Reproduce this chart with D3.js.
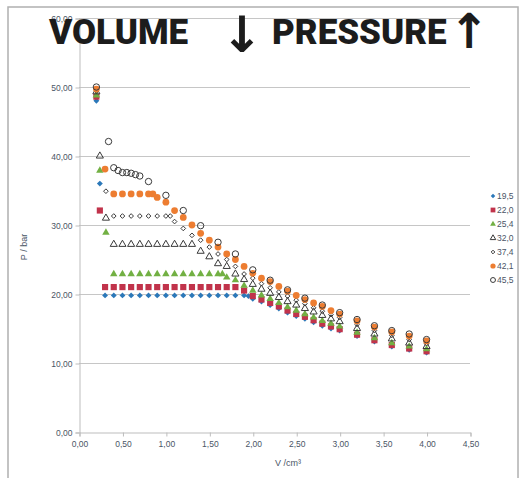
<!DOCTYPE html>
<html>
<head>
<meta charset="utf-8">
<script src="https://cdn.jsdelivr.net/npm/d3@7"></script>
<style>
  body { margin: 0; background: #fff; }
  svg { display: block; }
</style>
</head>
<body>
<div id="chart"></div>
<script>
// isotherms, [V /cm3, P /bar]
var t195 = [[0.2,48.0],[0.24,36.0],[0.3,19.8],[0.4,19.8],[0.5,19.8],[0.6,19.8],[0.7,19.8],[0.8,19.8],[0.9,19.8],[1.0,19.8],[1.1,19.8],[1.2,19.8],[1.3,19.8],[1.4,19.8],[1.5,19.8],[1.6,19.8],[1.7,19.8],[1.8,19.8],[1.9,19.8],[1.95,19.7],[2.0,19.3],[2.1,18.9],[2.2,18.4],[2.3,17.9],[2.4,17.3],[2.5,16.8],[2.6,16.4],[2.7,15.9],[2.8,15.4],[2.9,15.0],[3.0,14.7],[3.2,13.9],[3.4,13.1],[3.6,12.4],[3.8,11.9],[4.0,11.5]];
var t220 = [[0.2,48.6],[0.24,32.1],[0.3,21.0],[0.4,21.0],[0.5,21.0],[0.6,21.0],[0.7,21.0],[0.8,21.0],[0.9,21.0],[1.0,21.0],[1.1,21.0],[1.2,21.0],[1.3,21.0],[1.4,21.0],[1.5,21.0],[1.6,21.0],[1.7,21.0],[1.8,21.0],[1.9,20.5],[2.0,19.7],[2.1,19.2],[2.2,18.7],[2.3,18.2],[2.4,17.6],[2.5,17.1],[2.6,16.7],[2.7,16.2],[2.8,15.7],[2.9,15.3],[3.0,14.9],[3.2,14.1],[3.4,13.3],[3.6,12.6],[3.8,12.1],[4.0,11.7]];
var t254 = [[0.2,48.8],[0.24,37.9],[0.31,28.9],[0.4,22.9],[0.5,22.9],[0.6,22.9],[0.7,22.9],[0.8,22.9],[0.9,22.9],[1.0,22.9],[1.1,22.9],[1.2,22.9],[1.3,22.9],[1.4,22.9],[1.5,22.9],[1.6,22.9],[1.65,22.9],[1.7,22.4],[1.8,22.0],[1.9,21.2],[2.0,20.5],[2.1,19.8],[2.2,19.3],[2.3,18.7],[2.4,18.1],[2.5,17.6],[2.6,17.1],[2.7,16.6],[2.8,16.1],[2.9,15.7],[3.0,15.3],[3.2,14.4],[3.4,13.6],[3.6,12.9],[3.8,12.4],[4.0,12.0]];
var t320 = [[0.2,49.3],[0.24,40.0],[0.31,31.0],[0.4,27.2],[0.5,27.2],[0.6,27.2],[0.7,27.2],[0.8,27.2],[0.9,27.2],[1.0,27.2],[1.1,27.2],[1.2,27.2],[1.3,27.2],[1.4,26.2],[1.5,25.4],[1.6,24.4],[1.7,24.0],[1.8,22.9],[1.9,22.1],[2.0,21.4],[2.1,20.7],[2.2,20.1],[2.3,19.5],[2.4,18.9],[2.5,18.4],[2.6,17.9],[2.7,17.4],[2.8,16.9],[2.9,16.4],[3.0,16.0],[3.2,15.0],[3.4,14.2],[3.6,13.5],[3.8,12.9],[4.0,12.4]];
var t374 = [[0.2,49.4],[0.31,34.9],[0.4,31.3],[0.5,31.3],[0.6,31.3],[0.7,31.3],[0.8,31.3],[0.9,31.3],[1.0,31.3],[1.05,31.3],[1.1,30.5],[1.2,29.5],[1.3,28.5],[1.4,27.8],[1.5,26.8],[1.6,25.8],[1.7,25.0],[1.8,24.0],[1.9,22.9],[2.0,22.3],[2.1,21.5],[2.2,20.9],[2.3,20.3],[2.4,19.7],[2.5,19.1],[2.6,18.6],[2.7,18.0],[2.8,17.5],[2.9,17.0],[3.0,16.6],[3.2,15.6],[3.4,14.7],[3.6,14.0],[3.8,13.4],[4.0,12.8]];
var t421 = [[0.2,49.7],[0.3,38.1],[0.4,34.5],[0.5,34.5],[0.6,34.5],[0.7,34.5],[0.8,34.5],[0.85,34.5],[0.9,34.0],[1.0,33.3],[1.1,32.1],[1.2,31.1],[1.3,30.0],[1.4,28.8],[1.5,27.8],[1.6,26.8],[1.7,25.8],[1.8,25.0],[1.9,24.0],[2.0,23.0],[2.1,22.3],[2.2,21.8],[2.3,21.1],[2.4,20.4],[2.5,19.8],[2.6,19.2],[2.7,18.7],[2.8,18.2],[2.9,17.6],[3.0,17.1],[3.2,16.1],[3.4,15.2],[3.6,14.5],[3.8,13.9],[4.0,13.2]];
var t455 = [[0.2,50.0],[0.34,42.1],[0.4,38.3],[0.45,37.9],[0.5,37.6],[0.55,37.6],[0.6,37.5],[0.65,37.3],[0.7,37.1],[0.8,36.3],[1.0,34.3],[1.2,32.1],[1.4,29.9],[1.6,27.5],[1.8,25.8],[2.0,23.5],[2.2,22.0],[2.4,20.6],[2.6,19.4],[2.8,18.4],[3.0,17.3],[3.2,16.3],[3.4,15.4],[3.6,14.7],[3.8,14.2],[4.0,13.4]];

var seriesNames = ["19,5", "22,0", "25,4", "32,0", "37,4", "42,1", "45,5"];
var xTicks = [0, 0.5, 1, 1.5, 2, 2.5, 3, 3.5, 4, 4.5];
var yTicks = [0, 10, 20, 30, 40, 50, 60];

var series = [
  {name: seriesNames[0], data: t195, sym: d3.symbolDiamond2, size: 22, fill: "#2b78b9", stroke: "none"},
  {name: seriesNames[1], data: t220, sym: d3.symbolSquare, size: 38, fill: "#c1334b", stroke: "none"},
  {name: seriesNames[2], data: t254, sym: d3.symbolTriangle, size: 24, fill: "#72b043", stroke: "none"},
  {name: seriesNames[3], data: t320, sym: d3.symbolTriangle, size: 22, fill: "none", stroke: "#3a3a3a"},
  {name: seriesNames[4], data: t374, sym: d3.symbolDiamond2, size: 14, fill: "none", stroke: "#3a3a3a"},
  {name: seriesNames[5], data: t421, sym: d3.symbolCircle, size: 36, fill: "#ed7d31", stroke: "none"},
  {name: seriesNames[6], data: t455, sym: d3.symbolCircle, size: 32, fill: "none", stroke: "#3a3a3a"}
];

var width = 519, height = 478;
var comma = function(d) { return d3.format(".2f")(d).replace(".", ","); };

var svg = d3.select("#chart").append("svg")
  .attr("width", width)
  .attr("height", height);

// chart frame
svg.append("rect")
  .attr("x", 8).attr("y", 7)
  .attr("width", 510).attr("height", 480)
  .attr("fill", "#fff")
  .attr("stroke", "#b0b0b0")
  .attr("stroke-width", 1.5);

var x = d3.scaleLinear().domain([0, 4.5]).range([79, 470]);
var y = d3.scaleLinear().domain([0, 60]).range([432, 18]);

// gridlines
svg.append("g")
  .selectAll("line")
  .data(yTicks.filter(function(d) { return d > 0; }))
  .join("line")
  .attr("x1", x(0)).attr("x2", x(4.5))
  .attr("y1", function(d) { return y(d) + 0.5; })
  .attr("y2", function(d) { return y(d) + 0.5; })
  .attr("stroke", "#c6c6c6");

var yAxis = svg.append("g")
  .attr("transform", "translate(" + (x(0) + 0.5) + ",0.5)")
  .call(d3.axisLeft(y).tickValues(yTicks).tickSize(4).tickPadding(3).tickFormat(comma));

var xAxis = svg.append("g")
  .attr("transform", "translate(0.5," + (y(0) + 0.5) + ")")
  .call(d3.axisBottom(x).tickValues(xTicks).tickSize(4).tickPadding(4).tickFormat(comma));

[yAxis, xAxis].forEach(function(g) {
  g.selectAll("path, line").attr("stroke", "#bdbdbd");
  g.selectAll("text")
    .attr("fill", "#4a5566")
    .style("font-family", "'Liberation Sans', Arial, sans-serif")
    .style("font-size", "8.5px");
});

// axis titles
svg.append("text")
  .attr("transform", "translate(27," + 247 + ") rotate(-90)")
  .attr("text-anchor", "middle")
  .attr("fill", "#4a5566")
  .style("font-family", "'Liberation Sans', Arial, sans-serif")
  .style("font-size", "9px")
  .text("P / bar");

svg.append("text")
  .attr("x", 288).attr("y", 466)
  .attr("text-anchor", "middle")
  .attr("fill", "#4a5566")
  .style("font-family", "'Liberation Sans', Arial, sans-serif")
  .style("font-size", "9px")
  .text("V /cm³");

// markers
series.forEach(function(s) {
  svg.append("g")
    .selectAll("path")
    .data(s.data)
    .join("path")
    .attr("transform", function(d) { return "translate(" + x(d[0]) + "," + y(d[1]) + ")"; })
    .attr("d", d3.symbol().type(s.sym).size(s.size))
    .attr("fill", s.fill)
    .attr("stroke", s.stroke)
    .attr("stroke-width", 1);
});

// legend
var legend = svg.append("g").attr("transform", "translate(493,196)");
var item = legend.selectAll("g")
  .data(series)
  .join("g")
  .attr("transform", function(d, i) { return "translate(0," + (i * 14) + ")"; });
item.append("path")
  .attr("d", function(d) { return d3.symbol().type(d.sym).size(d.size * 0.6)(); })
  .attr("fill", function(d) { return d.fill; })
  .attr("stroke", function(d) { return d.stroke; });
item.append("text")
  .attr("x", 4).attr("dy", "0.35em")
  .attr("fill", "#4a5566")
  .style("font-family", "'Liberation Sans', Arial, sans-serif")
  .style("font-size", "8.5px")
  .text(function(d) { return d.name; });

// title overlay
var title = svg.append("text")
  .attr("y", 44)
  .attr("fill", "#1c1c1c")
  .style("font-family", "Roboto, 'DejaVu Sans', sans-serif")
  .style("font-weight", 900)
  .style("font-size", "35px");
title.append("tspan").attr("x", 49).text("VOLUME");
title.append("tspan").attr("x", 221).attr("y", 52).style("font-size", "50px").style("font-weight", "bold").style("font-family", "'DejaVu Sans', sans-serif").text("↓");
title.append("tspan").attr("x", 272).attr("y", 44).text("PRESSURE");
title.append("tspan").attr("x", 449).attr("y", 48).style("font-size", "48px").style("font-weight", "bold").style("font-family", "'DejaVu Sans', sans-serif").text("↑");
</script>
</body>
</html>
